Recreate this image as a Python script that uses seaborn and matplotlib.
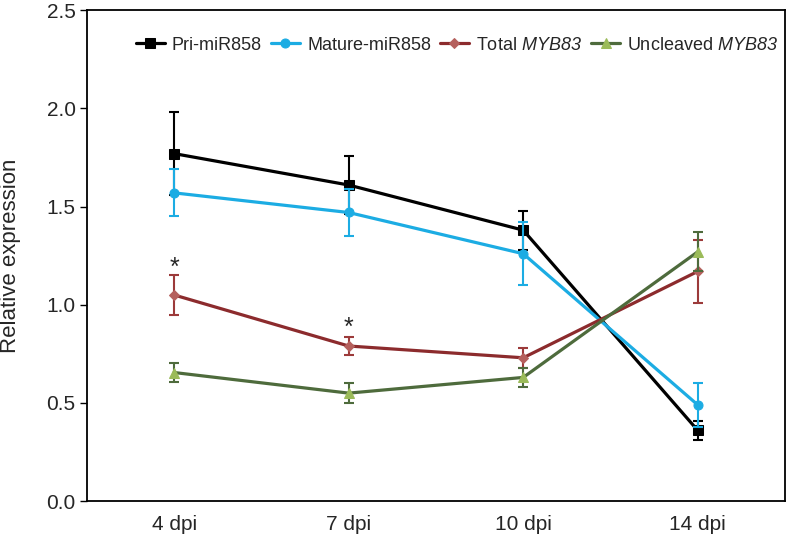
import numpy as np
import pandas as pd
import matplotlib
matplotlib.use('Agg')
import matplotlib.pyplot as plt
import seaborn as sns

# Data
days = ['4 dpi', '7 dpi', '10 dpi', '14 dpi']
series_names = ['Pri-miR858', 'Mature-miR858', 'Total $MYB83$', 'Uncleaved $MYB83$']
pri_mean = [1.77, 1.61, 1.38, 0.36]
pri_err = [0.21, 0.15, 0.10, 0.05]
mature_mean = [1.57, 1.47, 1.26, 0.49]
mature_err = [0.12, 0.12, 0.16, 0.11]
total_mean = [1.05, 0.79, 0.73, 1.17]
total_err = [0.10, 0.045, 0.05, 0.16]
uncleaved_mean = [0.655, 0.55, 0.63, 1.27]
uncleaved_err = [0.05, 0.05, 0.05, 0.10]
star_pos = [0, 1]
star_y = [1.19, 0.88]

means = [pri_mean, mature_mean, total_mean, uncleaved_mean]
errs = [pri_err, mature_err, total_err, uncleaved_err]
line_colors = ['#000000', '#1cace3', '#8c2b2d', '#4e6b3c']
face_colors = ['#000000', '#1cace3', '#b5605d', '#9bbb59']
err_colors = ['#000000', '#1cace3', '#9c3a3a', '#4e6b3c']
markers = ['s', 'o', 'D', '^']
msizes = [6.5, 6.5, 5, 7]

sns.set_style('white')
plt.rcParams['font.family'] = ['Liberation Sans', 'DejaVu Sans']
plt.rcParams['mathtext.fontset'] = 'custom'
plt.rcParams['mathtext.it'] = 'Liberation Sans:italic'
plt.rcParams['mathtext.rm'] = 'Liberation Sans:italic'

fig = plt.figure(figsize=(7.89, 5.40), dpi=100)
ax = fig.add_axes([0.110, 0.072, 0.885, 0.909])

x = np.arange(len(days))
for i, name in enumerate(series_names):
    df = pd.DataFrame({'x': x, 'y': means[i]})
    ax.errorbar(x, means[i], yerr=errs[i], fmt='none', ecolor=err_colors[i],
                elinewidth=1.5, capsize=3.5, capthick=1.5, zorder=2 + i)
    sns.lineplot(data=df, x='x', y='y', ax=ax, color=line_colors[i], linewidth=2.3,
                 marker=markers[i], markersize=msizes[i], markerfacecolor=face_colors[i],
                 markeredgecolor=face_colors[i], label=name, zorder=3 + i)

# significance marks
for xp, yp in zip(star_pos, star_y):
    ax.text(xp, yp, '*', ha='center', va='center', fontsize=18)

ax.set_xlim(-0.5, 3.5)
ax.set_ylim(0, 2.5)
yt = np.arange(0, 2.51, 0.5)
ax.set_yticks(yt)
ax.set_yticklabels([f'{v:.1f}' for v in yt], fontsize=15)
ax.set_xticks(x)
ax.set_xticklabels(days, fontsize=15)
ax.set_xticks(np.arange(-0.5, 3.6, 1), minor=True)
ax.tick_params(axis='x', which='major', length=0, pad=10)
ax.tick_params(axis='x', which='minor', length=4, width=1, direction='out', color='black')
ax.tick_params(axis='y', which='major', length=5, width=1, direction='out', color='black',
               left=True, pad=3)
ax.set_xlabel('')
ax.set_ylabel('Relative expression', fontsize=16)
ax.yaxis.set_label_coords(-0.094, 0.5)
for sp in ax.spines.values():
    sp.set_color('black')
    sp.set_linewidth(1.3)

ax.legend(loc='center', bbox_to_anchor=(0.53, 0.929), ncol=4, frameon=False,
          fontsize=13, handlelength=1.6, columnspacing=0.5, handletextpad=0.4)

fig.savefig('out.png', dpi=100)
